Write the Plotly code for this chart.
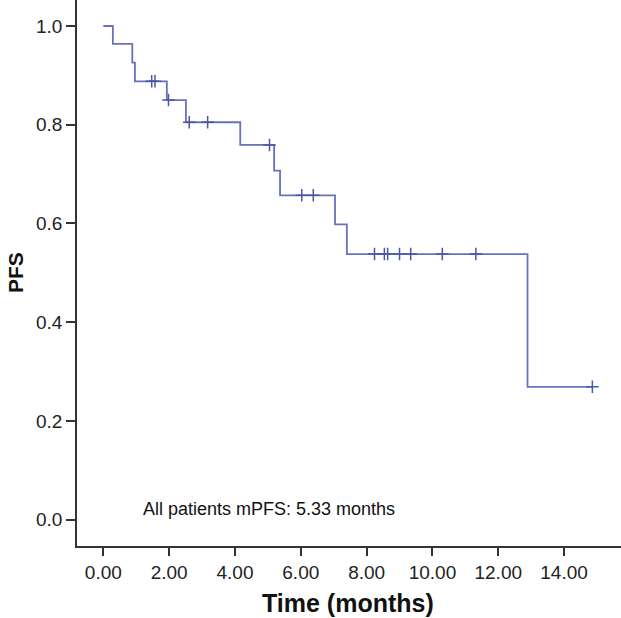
import plotly.graph_objects as go

# Kaplan-Meier step curve (time in months, survival probability)
step_times = [0.0, 0.29, 0.88, 0.96, 1.93, 2.51, 4.16, 5.19, 5.37, 7.04, 7.40, 12.89, 14.86]
step_surv = [1.0, 0.964, 0.926, 0.888, 0.850, 0.805, 0.759, 0.707, 0.657, 0.598, 0.538, 0.269, 0.269]

# Censored observations
cens_times = [1.47, 1.57, 1.98, 2.61, 3.17, 5.05, 6.03, 6.38, 8.24, 8.54, 8.64, 9.00, 9.34, 10.30, 11.32, 14.86]
cens_surv = [0.888, 0.888, 0.850, 0.805, 0.805, 0.759, 0.657, 0.657, 0.538, 0.538, 0.538, 0.538, 0.538, 0.538, 0.538, 0.269]

x_ticks = [0, 2, 4, 6, 8, 10, 12, 14]
x_tick_labels = ["0.00", "2.00", "4.00", "6.00", "8.00", "10.00", "12.00", "14.00"]
y_ticks = [0.0, 0.2, 0.4, 0.6, 0.8, 1.0]
y_tick_labels = ["0.0", "0.2", "0.4", "0.6", "0.8", "1.0"]

line_color = "#6673bb"
mark_color = "#4a57a6"
FONT = "Liberation Sans, Arial, sans-serif"

fig = go.Figure()
fig.add_trace(go.Scatter(
    x=step_times, y=step_surv, mode="lines", line_shape="hv",
    line=dict(color=line_color, width=1.8), hoverinfo="skip", showlegend=False))
fig.add_trace(go.Scatter(
    x=cens_times, y=cens_surv, mode="markers",
    marker=dict(symbol="cross-thin", size=9, line=dict(color=mark_color, width=1.5)),
    showlegend=False))

fig.add_annotation(x=1.17, y=0.021, xref="x", yref="y", text="All patients mPFS: 5.33 months",
                   showarrow=False, xanchor="left", yanchor="middle", borderpad=0,
                   font=dict(family=FONT, size=18, color="#111"))
# Axis titles
fig.add_annotation(x=0.498, y=-0.105, xref="paper", yref="paper", text="<b>Time (months)</b>",
                   showarrow=False, xanchor="center", yanchor="middle",
                   font=dict(family=FONT, size=25, color="#111"))
fig.add_annotation(x=-0.114, y=0.5016, xref="paper", yref="paper", text="<b>PFS</b>",
                   showarrow=False, xanchor="center", yanchor="middle", textangle=-90,
                   font=dict(family=FONT, size=21, color="#111"))

axis_font = dict(family=FONT, size=19, color="#222")
fig.update_layout(
    width=621, height=618,
    margin=dict(l=77, r=0, t=0, b=72),
    plot_bgcolor="white", paper_bgcolor="white",
    font=axis_font,
    xaxis=dict(range=[-0.80, 15.73], tickvals=x_ticks, ticktext=x_tick_labels, automargin=False,
               showline=True, linecolor="#333", linewidth=1.5, showgrid=False, zeroline=False,
               ticks="outside", ticklen=8, tickwidth=1.5, tickcolor="#333",
               tickfont=axis_font),
    yaxis=dict(range=[-0.0535, 1.0527], tickvals=y_ticks, ticktext=y_tick_labels, automargin=False,
               showline=True, linecolor="#333", linewidth=1.5, showgrid=False, zeroline=False,
               ticks="outside", ticklen=9, tickwidth=1.5, tickcolor="#333",
               tickfont=axis_font),
)

fig.write_html("out.html", config={"displayModeBar": False},
               post_script="document.body.style.margin='0';document.body.style.overflow='hidden';")
